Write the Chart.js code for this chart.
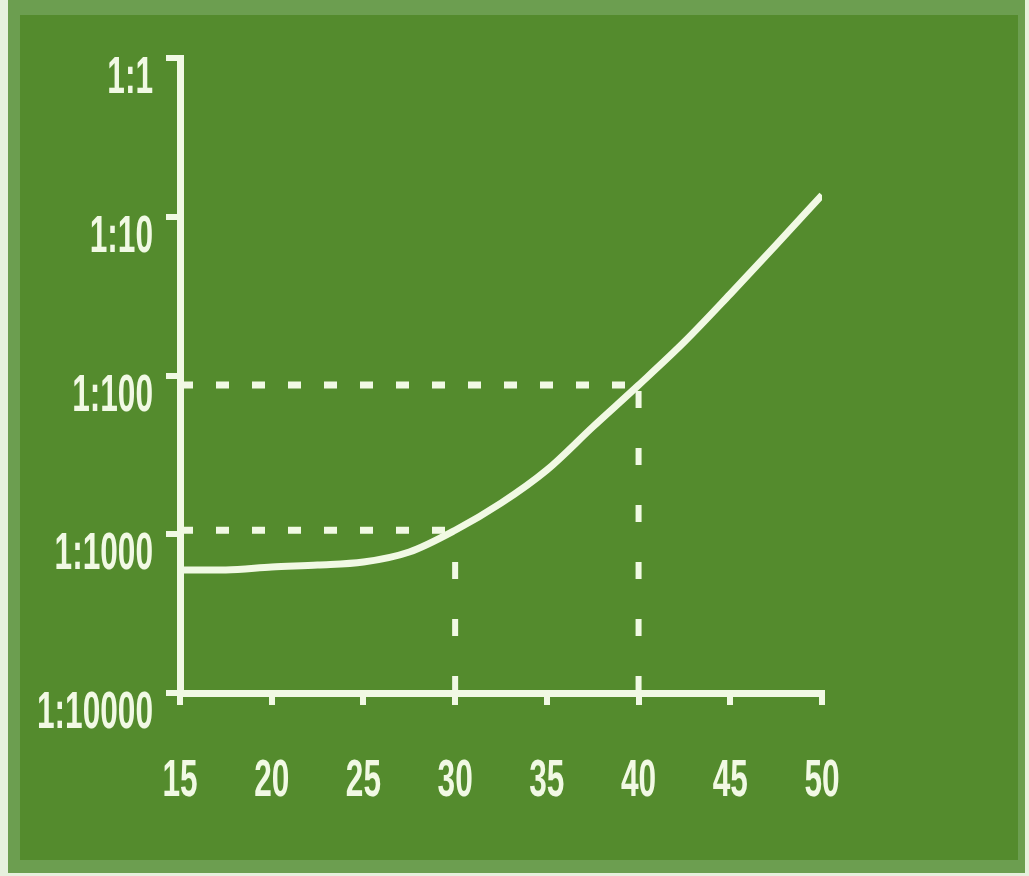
<!DOCTYPE html>
<html>
<head>
<meta charset="utf-8">
<script src="https://cdn.jsdelivr.net/npm/chart.js@4"></script>
<style>
  html, body { margin: 0; padding: 0; background: #e6f1de; }
  #wrap { position: relative; width: 1029px; height: 876px; overflow: hidden; }
  #frame { position: absolute; left: 8px; top: 0; width: 1017px; height: 873px; background: #6c9e50; }
  #inner { position: absolute; left: 20px; top: 15px; width: 998px; height: 845px; background: #548b2d; }
  canvas { position: absolute; left: 0; top: 0; }
</style>
</head>
<body>
<div id="wrap">
  <div id="frame"></div>
  <div id="inner"></div>
  <canvas id="chart" width="1029" height="876"></canvas>
</div>
<script>
// Valeurs (âge -> risque)
const ages = [15, 17.5, 20, 22.5, 25, 27.5, 30, 32.5, 35, 37.5, 40, 42.5, 45, 47.5, 50];
const risque = [0.000596, 0.000596, 0.000622, 0.00064, 0.000668, 0.000773, 0.00106, 0.00157,
                0.00254, 0.00474, 0.0087, 0.0163, 0.0326, 0.0664, 0.137];

const xTicks = [15, 20, 25, 30, 35, 40, 45, 50];
const yTicks = [0.0001, 0.001, 0.01, 0.1, 1];
const yLabels = ['1:10000', '1:1000', '1:100', '1:10', '1:1'];

// Repères pointillés : 30 ans et 40 ans
const repere30 = 0.00106;
const repere40 = 0.0087;

const creme = '#f1f9e4';
const police = "bold 51px 'Liberation Sans', Arial, sans-serif";

function pointsCourbe() {
    return ages.map(function (a, i) { return { x: a, y: risque[i] }; });
}

function segment(x1, y1, x2, y2, dash, epaisseur) {
    return {
        data: [{ x: x1, y: y1 }, { x: x2, y: y2 }],
        borderColor: creme,
        borderWidth: epaisseur,
        borderDash: dash,
        pointRadius: 0,
        order: 1
    };
}

// Étiquettes des axes : police étroite simulée par un étirement horizontal
const etiquettesEtroites = {
    id: 'etiquettesEtroites',
    afterDraw: function (chart) {
        const ctx = chart.ctx;
        const sx = chart.scales.x;
        const sy = chart.scales.y;
        ctx.save();
        ctx.fillStyle = creme;
        ctx.font = police;
        ctx.textBaseline = 'alphabetic';

        ctx.textAlign = 'center';
        xTicks.forEach(function (v) {
            ctx.save();
            ctx.translate(sx.getPixelForValue(v), 796);
            ctx.scale(0.62, 1);
            ctx.fillText(String(v), 0, 0);
            ctx.restore();
        });

        ctx.textAlign = 'right';
        yTicks.forEach(function (v, i) {
            ctx.save();
            ctx.translate(153, sy.getPixelForValue(v) + 35);
            ctx.scale(0.62, 1);
            ctx.fillText(yLabels[i], 0, 0);
            ctx.restore();
        });
        ctx.restore();
    }
};

new Chart(document.getElementById('chart').getContext('2d'), {
    type: 'line',
    data: {
        datasets: [
            {
                data: pointsCourbe(),
                borderColor: creme,
                borderWidth: 7,
                pointRadius: 0,
                cubicInterpolationMode: 'monotone',
                order: 0
            },
            segment(15, repere40, 40, repere40, [13, 23], 7),
            segment(15, repere30, 30, repere30, [13, 23], 7),
            segment(40, 0.0001, 40, repere40, [17, 40], 6),
            segment(30, 0.0001, 30, repere30, [17, 40], 6)
        ]
    },
    options: {
        responsive: false,
        animation: false,
        devicePixelRatio: 1,
        layout: { padding: { left: 0, top: 58, right: 207, bottom: 0 } },
        plugins: { legend: { display: false }, tooltip: { enabled: false } },
        scales: {
            x: {
                type: 'linear',
                min: 15,
                max: 50,
                afterFit: function (scale) { scale.height = 183; },
                afterBuildTicks: function (scale) {
                    scale.ticks = xTicks.map(function (v) { return { value: v }; });
                },
                border: { color: creme, width: 7 },
                grid: { drawOnChartArea: false, drawTicks: true, tickLength: 12, color: creme, lineWidth: 6 },
                ticks: { display: false }
            },
            y: {
                type: 'logarithmic',
                min: 0.0001,
                max: 1,
                afterFit: function (scale) { scale.width = 180; },
                afterBuildTicks: function (scale) {
                    scale.ticks = yTicks.map(function (v) { return { value: v }; });
                },
                border: { color: creme, width: 7 },
                grid: { drawOnChartArea: false, drawTicks: true, tickLength: 14, color: creme, lineWidth: 6 },
                ticks: { display: false }
            }
        }
    },
    plugins: [etiquettesEtroites]
});
</script>
</body>
</html>
